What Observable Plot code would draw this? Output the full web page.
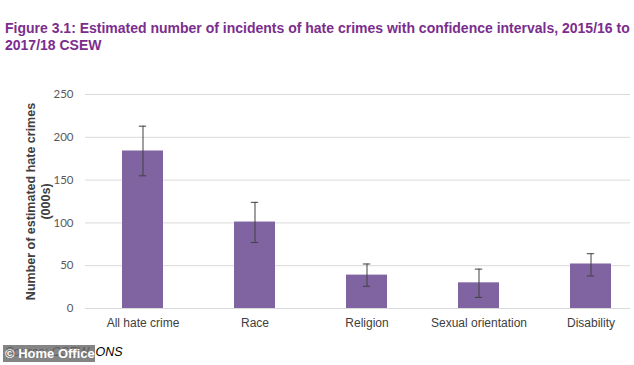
<!DOCTYPE html>
<html>
<head>
<meta charset="utf-8">
<script src="https://cdn.jsdelivr.net/npm/d3@7"></script>
<script src="https://cdn.jsdelivr.net/npm/@observablehq/plot@0.6"></script>
<style>
  body { margin: 0; background: #fff; width: 634px; height: 365px; overflow: hidden; position: relative; font-family: "Liberation Sans", Arial, sans-serif; }
  #title { position: absolute; left: 5px; top: 20px; width: 632px; color: #7B2D8E; font-weight: bold; font-size: 14px; line-height: 17px; }
  #chart { position: absolute; left: 0; top: 0; }
  #source { position: absolute; left: 5px; top: 345px; font-style: italic; font-size: 12.5px; color: #000; }
  #wm { position: absolute; left: 3px; top: 345px; width: 92px; height: 17px; background: rgba(110,110,110,0.85); color: #fff; font-weight: bold; font-size: 13px; line-height: 17px; padding-left: 2px; box-sizing: border-box; }
</style>
</head>
<body>
<div id="chart"></div>
<div id="title">Figure 3.1: Estimated number of incidents of hate crimes with confidence intervals, 2015/16 to 2017/18 CSEW</div>
<div id="source">Source: CSEW, ONS</div>
<div id="wm">© Home Office</div>
<script>
const categories = ["All hate crime", "Race", "Religion", "Sexual orientation", "Disability"];
const estimates = [184, 101, 39, 30, 52];
const lower = [155, 77, 26, 13, 38];
const upper = [213, 124, 52, 46, 64];
const yTicks = [0, 50, 100, 150, 200, 250];

const data = categories.map((c, i) => ({category: c, value: estimates[i], lo: lower[i], hi: upper[i]}));

const chart = Plot.plot({
  width: 634,
  height: 365,
  marginTop: 94,
  marginBottom: 57,
  marginLeft: 85,
  marginRight: 4,
  style: {fontFamily: "'Liberation Sans', Arial, sans-serif", background: "#fff", overflow: "visible"},
  x: {domain: categories, range: [84.75, 647.25], paddingInner: 0.636, paddingOuter: 0.318, align: 0.5, label: null},
  y: {domain: [0, 250], label: null},
  marks: [
    Plot.ruleY(yTicks, {stroke: "#d9d9d9", strokeWidth: 1}),
    Plot.axisY({ticks: yTicks, tickSize: 0, tickPadding: 12, fontSize: 11.5, fill: "#595959", label: null, fontFamily: "Lato, 'Open Sans', sans-serif"}),
    Plot.axisX({tickSize: 0, tickPadding: 10, fontSize: 12, fill: "#404040", label: null}),
    Plot.barY(data, {x: "category", y: "value", fill: "#8064A2"}),
    Plot.ruleX(data, {x: "category", y1: "lo", y2: "hi", stroke: "#404040", strokeWidth: 1}),
    Plot.tickY(data, {x: "category", y: "hi", stroke: "#404040", strokeWidth: 1, inset: 16.8}),
    Plot.tickY(data, {x: "category", y: "lo", stroke: "#404040", strokeWidth: 1, inset: 16.8}),
    Plot.text(["Number of estimated hate crimes\n(000s)"], {frameAnchor: "left", textAnchor: "middle", dx: -47.5, rotate: -90, fontSize: 12.5, fontWeight: "bold", fill: "#404040", lineHeight: 1.2})
  ]
});
document.getElementById("chart").appendChild(chart);
</script>
</body>
</html>
